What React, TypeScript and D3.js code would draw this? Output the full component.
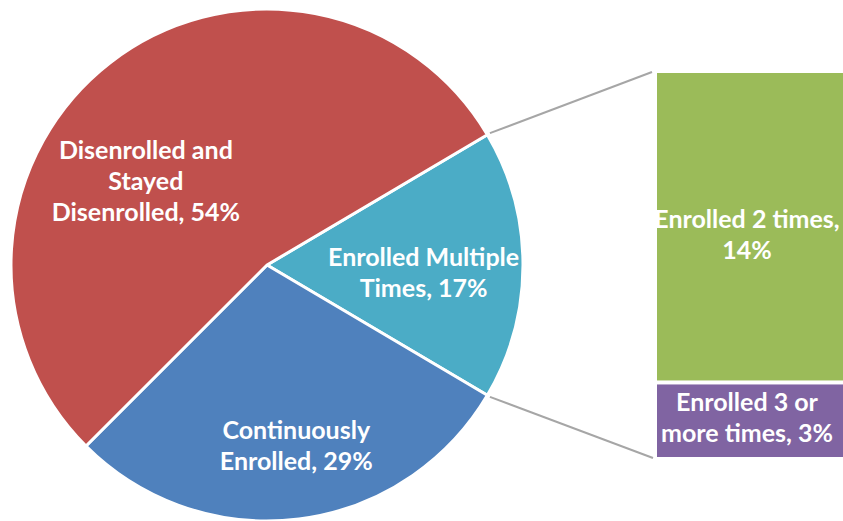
import React from 'react';
import * as d3 from 'd3';

// pie slices (percent of total)
const pieLabels = [['Enrolled Multiple', 'Times, 17%'], ['Continuously', 'Enrolled, 29%'], ['Disenrolled and', 'Stayed', 'Disenrolled, 54%']];
const pieValues = [17, 29, 54];
const pieColors = ['#4BACC6', '#4F81BD', '#C0504D'];

// breakdown of the "multiple" slice
const barLabels = [['Enrolled 2 times,', '14%'], ['Enrolled 3 or', 'more times, 3%']];
const barValues = [13.7, 3.3];
const barColors = ['#9BBB59', '#8064A2'];

// label nudges relative to the slice centroid / segment middle
const pieLabelShift = [[3, 8], [10, 28], [-27, 38]];
const barLabelShift = [7, -2];

const W = 843;
const H = 521;

export default function App() {
  const cx = 267;
  const cy = 265;
  const r = 256;
  const fontSize = 25;
  const lineH = 31;

  const multi = pieValues[0];
  const start = Math.PI / 2 - (multi / 100) * Math.PI;
  const pie = d3.pie<number>().sort(null).startAngle(start).endAngle(start + 2 * Math.PI);
  const slices = pie(pieValues);
  const arc = d3.arc<d3.PieArcDatum<number>>().innerRadius(0).outerRadius(r);
  const labelArc = d3.arc<d3.PieArcDatum<number>>().innerRadius(r * 0.6).outerRadius(r * 0.6);

  // bar of pie
  const barX = 657;
  const barW = 200;
  const total = d3.sum(barValues);
  const y = d3.scaleLinear().domain([0, total]).range([73, 457]);
  const stack = barValues.map((v, i) => {
    const before = d3.sum(barValues.slice(0, i));
    return { v, y0: y(before), y1: y(before + v) };
  });

  // connector lines from slice edges to the bar corners
  const a0 = slices[0].startAngle;
  const a1 = slices[0].endAngle;
  const edge = (a: number) => [cx + (r + 3) * Math.sin(a), cy - (r + 3) * Math.cos(a)];
  const [sx0, sy0] = edge(a0);
  const [sx1, sy1] = edge(a1);

  const textStyle: React.CSSProperties = {
    fontFamily: 'Lato, "Open Sans", sans-serif',
    fontWeight: 700,
    fontSize,
    fill: '#fff',
  };

  const block = (lines: string[], x: number, yc: number) => {
    const top = yc - ((lines.length - 1) * lineH) / 2;
    return lines.map((t, j) => (
      <tspan key={j} x={x} y={top + j * lineH} dy="0.35em">{t}</tspan>
    ));
  };

  return (
    <svg width={W} height={H} style={{ position: 'absolute', left: 0, top: 0, background: '#fff' }}>
      <g transform={`translate(${cx},${cy})`}>
        {slices.map((s, i) => (
          <path key={i} d={arc(s) || ''} fill={pieColors[i]} stroke="#fff" strokeWidth={3} strokeLinejoin="round" />
        ))}
        {slices.map((s, i) => {
          const [lx, ly] = labelArc.centroid(s);
          return (
            <text key={i} textAnchor="middle" style={textStyle}>
              {block(pieLabels[i], lx + pieLabelShift[i][0], ly + pieLabelShift[i][1])}
            </text>
          );
        })}
      </g>

      <line x1={sx0} y1={sy0} x2={barX - 5} y2={y(0) - 1} stroke="#A6A6A6" strokeWidth={2} />
      <line x1={sx1} y1={sy1} x2={barX - 4} y2={y(total) + 1} stroke="#A6A6A6" strokeWidth={2} />

      {stack.map((b, i) => (
        <g key={i}>
          <rect x={barX} y={b.y0 + (i > 0 ? 2 : 0)} width={barW} height={b.y1 - b.y0 - (i > 0 ? 2 : 0) - (i < stack.length - 1 ? 2 : 0)} fill={barColors[i]} />
          <text textAnchor="middle" style={textStyle}>
            {block(barLabels[i], 747, (b.y0 + b.y1) / 2 + barLabelShift[i])}
          </text>
        </g>
      ))}
    </svg>
  );
}
